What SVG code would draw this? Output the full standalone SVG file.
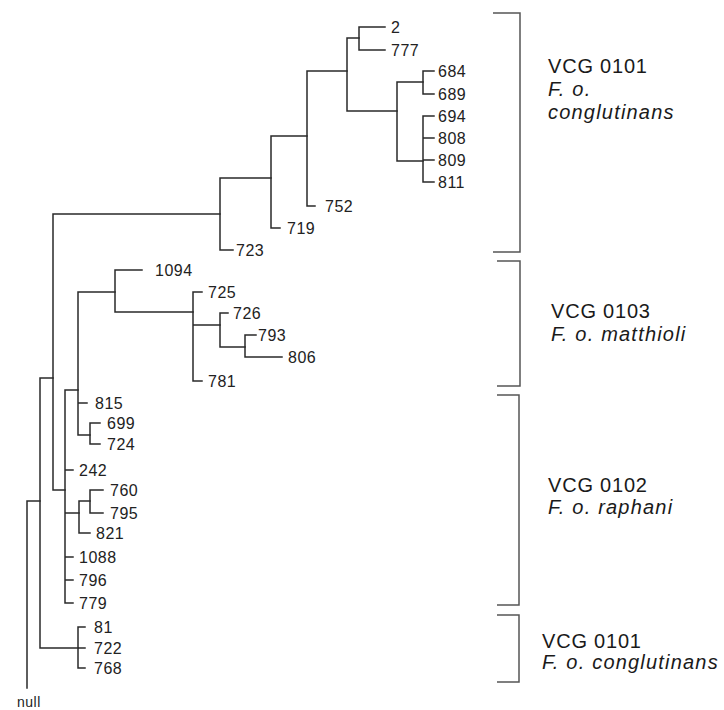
<svg xmlns="http://www.w3.org/2000/svg" width="724" height="710" viewBox="0 0 724 710">
<style>
.br{fill:none;stroke:#2a2a2a;stroke-width:1.5;stroke-linecap:square}
.bk{fill:none;stroke:#555;stroke-width:1.5}
.lf{font-family:"Liberation Sans",Arial,sans-serif;font-size:16px;fill:#222;letter-spacing:0.5px}
.vc{font-family:"Liberation Sans",Arial,sans-serif;font-size:20px;fill:#1a1a1a;letter-spacing:0.8px}
.sp{font-family:"Liberation Sans",Arial,sans-serif;font-size:20px;font-style:italic;fill:#1a1a1a;letter-spacing:1.2px}
</style>
<rect width="724" height="710" fill="#fff"/>
<g id="connectors" class="br">
<path d="M27,501V688M27,501H40"/>
<path d="M40,378V648M40,378H53M40,648H78"/>
<path d="M78,627V668M78,627H85M78,648H85M78,668H85"/>
<path d="M53,214V490M53,214H220M53,490H65"/>
<path d="M220,178V250M220,178H271M220,250H233"/>
<path d="M271,136V228M271,136H307M271,228H280"/>
<path d="M307,71V206M307,71H347M307,206H315"/>
<path d="M347,38V111M347,38H359M347,111H397"/>
<path d="M359,27V50M359,27H385M359,50H385"/>
<path d="M397,82V161M397,82H423M397,161H423"/>
<path d="M423,71V94M423,71H434M423,94H434"/>
<path d="M423,116V182M423,116H434M423,138H434M423,160H434M423,182H434"/>
<path d="M65,390V603M65,390H78M65,470H73M65,513H79M65,557H73M65,580H73M65,603H73"/>
<path d="M79,501V533M79,501H90M79,533H90"/>
<path d="M90,490V513M90,490H103M90,513H103"/>
<path d="M78,292V435M78,292H115M78,403H87M78,435H90"/>
<path d="M90,423V444M90,423H100M90,444H100"/>
<path d="M115,270V312M115,270H142M115,312H193"/>
<path d="M193,292V381M193,292H202M193,325H220M193,381H202"/>
<path d="M220,313V347M220,313H228M220,347H245"/>
<path d="M245,335V357M245,335H256M245,357H282"/>
</g>
<g id="leaf-2"><text class="lf" x="391" y="33">2</text></g>
<g id="leaf-777"><text class="lf" x="391" y="56">777</text></g>
<g id="leaf-684"><text class="lf" x="438" y="77">684</text></g>
<g id="leaf-689"><text class="lf" x="438" y="100">689</text></g>
<g id="leaf-694"><text class="lf" x="438" y="122">694</text></g>
<g id="leaf-808"><text class="lf" x="438" y="144">808</text></g>
<g id="leaf-809"><text class="lf" x="438" y="166">809</text></g>
<g id="leaf-811"><text class="lf" x="438" y="188">811</text></g>
<g id="leaf-752"><text class="lf" x="325" y="212">752</text></g>
<g id="leaf-719"><text class="lf" x="287" y="234">719</text></g>
<g id="leaf-723"><text class="lf" x="236" y="256">723</text></g>
<g id="leaf-1094"><text class="lf" x="155" y="276">1094</text></g>
<g id="leaf-725"><text class="lf" x="208" y="298">725</text></g>
<g id="leaf-726"><text class="lf" x="233" y="319">726</text></g>
<g id="leaf-793"><text class="lf" x="258" y="341">793</text></g>
<g id="leaf-806"><text class="lf" x="288" y="363">806</text></g>
<g id="leaf-781"><text class="lf" x="208" y="387">781</text></g>
<g id="leaf-815"><text class="lf" x="95" y="409">815</text></g>
<g id="leaf-699"><text class="lf" x="107" y="429">699</text></g>
<g id="leaf-724"><text class="lf" x="107" y="450">724</text></g>
<g id="leaf-242"><text class="lf" x="79" y="476">242</text></g>
<g id="leaf-760"><text class="lf" x="110" y="496">760</text></g>
<g id="leaf-795"><text class="lf" x="110" y="519">795</text></g>
<g id="leaf-821"><text class="lf" x="96" y="539">821</text></g>
<g id="leaf-1088"><text class="lf" x="79" y="563">1088</text></g>
<g id="leaf-796"><text class="lf" x="79" y="586">796</text></g>
<g id="leaf-779"><text class="lf" x="79" y="609">779</text></g>
<g id="leaf-81"><text class="lf" x="94" y="633">81</text></g>
<g id="leaf-722"><text class="lf" x="94" y="654">722</text></g>
<g id="leaf-768"><text class="lf" x="94" y="674">768</text></g>
<g id="root-null"><text class="lf" x="17" y="707" style="font-size:14px">null</text></g>
<g id="group-0101-a">
<path class="bk" d="M493,13H520V252H493"/>
<text class="vc" x="548" y="73">VCG 0101</text>
<text class="sp" x="548" y="96">F. o.</text>
<text class="sp" x="548" y="119">conglutinans</text>
</g>
<g id="group-0103">
<path class="bk" d="M497,261H520V386H497"/>
<text class="vc" x="551" y="318">VCG 0103</text>
<text class="sp" x="551" y="341">F. o. matthioli</text>
</g>
<g id="group-0102">
<path class="bk" d="M497,395H519V605H497"/>
<text class="vc" x="548" y="492">VCG 0102</text>
<text class="sp" x="548" y="514">F. o. raphani</text>
</g>
<g id="group-0101-b">
<path class="bk" d="M497,615H519V682H497"/>
<text class="vc" x="542" y="648">VCG 0101</text>
<text class="sp" x="542" y="669">F. o. conglutinans</text>
</g>
</svg>
